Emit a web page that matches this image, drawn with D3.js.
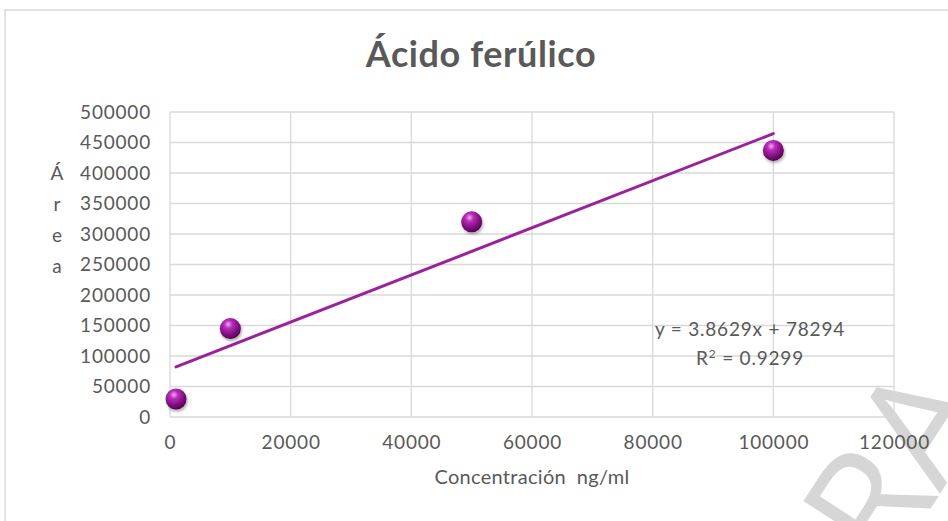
<!DOCTYPE html>
<html>
<head>
<meta charset="utf-8">
<script src="https://cdn.jsdelivr.net/npm/d3@7"></script>
<style>
  body { margin: 0; background: #fff; }
  text { font-family: Lato, "Open Sans", sans-serif; fill: #595959; }
</style>
</head>
<body>
<div id="chart"></div>
<script>
// data
var concentracion = [1000, 10000, 50000, 100000];
var area = [29500, 145000, 320000, 437000];
var xTicks = [0, 20000, 40000, 60000, 80000, 100000, 120000];
var yTicks = [0, 50000, 100000, 150000, 200000, 250000, 300000, 350000, 400000, 450000, 500000];
var slope = 3.8629, intercept = 78294, r2 = 0.9299;

var width = 948, height = 521;
var margin = {top: 112, right: 54, bottom: 104, left: 170};

var svg = d3.select("#chart").append("svg")
  .attr("width", width)
  .attr("height", height);

var defs = svg.append("defs");
var grad = defs.append("radialGradient")
  .attr("id", "ball")
  .attr("cx", "40%").attr("cy", "30%").attr("r", "65%");
grad.append("stop").attr("offset", "0%").attr("stop-color", "#f2a8f2");
grad.append("stop").attr("offset", "30%").attr("stop-color", "#b82cb8");
grad.append("stop").attr("offset", "80%").attr("stop-color", "#7a0c7a");
grad.append("stop").attr("offset", "100%").attr("stop-color", "#5a065a");

var shadow = defs.append("filter").attr("id", "shadow")
  .attr("x", "-50%").attr("y", "-50%").attr("width", "200%").attr("height", "200%");
shadow.append("feDropShadow").attr("dx", 1).attr("dy", 2).attr("stdDeviation", 1.5)
  .attr("flood-color", "#000").attr("flood-opacity", 0.35);

// outer chart frame
svg.append("rect")
  .attr("x", 5).attr("y", 10)
  .attr("width", 1000).attr("height", 600)
  .attr("fill", "#fff")
  .attr("stroke", "#d9d9d9")
  .attr("stroke-width", 1.5);

// watermark fragment (behind everything)
svg.append("text")
  .attr("transform", "translate(888,574) rotate(-57)")
  .style("font-size", "155px")
  .style("fill", "#d6d6d6")
  .style("font-family", "'Open Sans', sans-serif")
  .text("RA");

var x = d3.scaleLinear().domain([0, 120000]).range([margin.left, width - margin.right]);
var y = d3.scaleLinear().domain([0, 500000]).range([height - margin.bottom, margin.top]);

// grid
svg.append("g").selectAll("line").data(yTicks).enter().append("line")
  .attr("x1", x(0)).attr("x2", x(120000))
  .attr("y1", function(d) { return y(d); })
  .attr("y2", function(d) { return y(d); })
  .attr("stroke", "#d9d9d9").attr("stroke-width", 1.3);

svg.append("g").selectAll("line").data(xTicks).enter().append("line")
  .attr("y1", y(0)).attr("y2", y(500000))
  .attr("x1", function(d) { return x(d); })
  .attr("x2", function(d) { return x(d); })
  .attr("stroke", "#d9d9d9").attr("stroke-width", 1.3);

// axes labels (no domain lines)
var xAxis = d3.axisBottom(x).tickValues(xTicks).tickSize(0).tickPadding(19).tickFormat(d3.format("d"));
var yAxis = d3.axisLeft(y).tickValues(yTicks).tickSize(0).tickPadding(19).tickFormat(d3.format("d"));

var gx = svg.append("g").attr("transform", "translate(0," + y(0) + ")").call(xAxis);
var gy = svg.append("g").attr("transform", "translate(" + x(0) + ",0)").call(yAxis);
[gx, gy].forEach(function(g) {
  g.select(".domain").remove();
  g.selectAll("text")
    .style("font-family", "Lato, 'Open Sans', sans-serif")
    .style("font-size", "19px")
    .style("letter-spacing", "0.8px")
    .attr("fill", "#595959");
});

// title
svg.append("text")
  .attr("x", 481).attr("y", 67)
  .attr("text-anchor", "middle")
  .style("font-size", "36px")
  .style("font-weight", "bold")
  .style("letter-spacing", "0.6px")
  .text("Ácido ferúlico");

// x axis title
svg.append("text")
  .attr("x", 532).attr("y", 484)
  .attr("text-anchor", "middle")
  .style("font-size", "20px")
  .style("letter-spacing", "0.3px")
  .attr("xml:space", "preserve")
  .text("Concentración  ng/ml");

// y axis title, stacked letters
var letters = ["Á", "r", "e", "a"];
svg.append("g").selectAll("text").data(letters).enter().append("text")
  .attr("x", 57)
  .attr("y", function(d, i) { return 180 + i * 31; })
  .attr("text-anchor", "middle")
  .style("font-size", "19px")
  .text(function(d) { return d; });

// trendline
var x0 = d3.min(concentracion), x1 = d3.max(concentracion);
svg.append("line")
  .attr("x1", x(x0)).attr("y1", y(slope * x0 + intercept))
  .attr("x2", x(x1)).attr("y2", y(slope * x1 + intercept))
  .attr("stroke", "#9a229a")
  .attr("stroke-width", 3)
  .attr("stroke-linecap", "round");

// points
svg.append("g").selectAll("circle").data(concentracion).enter().append("circle")
  .attr("cx", function(d) { return x(d); })
  .attr("cy", function(d, i) { return y(area[i]); })
  .attr("r", 10.5)
  .attr("fill", "url(#ball)")
  .attr("filter", "url(#shadow)");

// equation label
svg.append("text")
  .attr("x", 750).attr("y", 336)
  .attr("text-anchor", "middle")
  .style("font-size", "19px")
  .style("letter-spacing", "0.8px")
  .text("y = " + slope + "x + " + intercept);
var rt = svg.append("text")
  .attr("x", 750).attr("y", 365)
  .attr("text-anchor", "middle")
  .style("font-size", "19px")
  .style("letter-spacing", "0.8px");
rt.append("tspan").text("R");
rt.append("tspan").attr("dy", -7).style("font-size", "12px").text("2");
rt.append("tspan").attr("dy", 7).text(" = " + r2);
</script>
</body>
</html>
